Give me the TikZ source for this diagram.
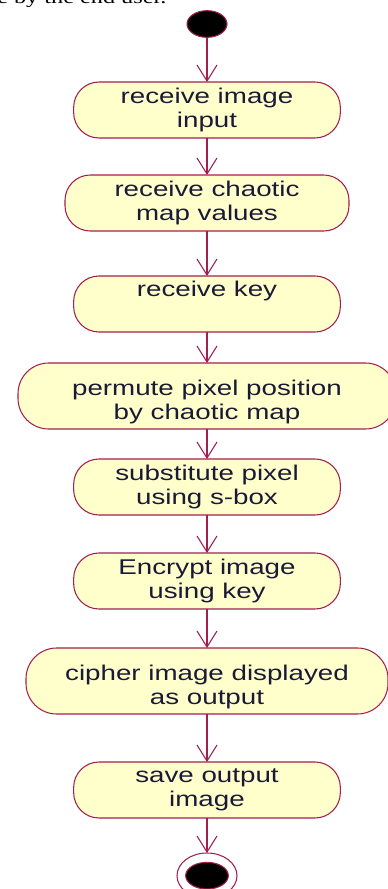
\documentclass[tikz,border=0pt]{standalone}
\usepackage{fontspec}
\newfontfamily\actfont[FakeStretch=1.3]{Liberation Sans}
\newfontfamily\paperfont[FakeStretch=1.3]{Liberation Serif}
\usetikzlibrary{arrows.meta,positioning,shapes.geometric}
\definecolor{UMaroon}{HTML}{A31F4F}
\definecolor{UFill}{HTML}{FFFFCC}
\definecolor{UText}{HTML}{1A1A36}

\begin{document}
\begin{tikzpicture}[x=0.75pt,y=-0.75pt,
  act/.style={draw=UMaroon,fill=UFill,rounded corners=19pt,line width=0.8pt,
    minimum width=200pt,minimum height=42pt,inner sep=0pt,outer sep=0pt,
    align=center,text=UText,font=\actfont\fontsize{16}{18}\selectfont},
  wide/.style={act,minimum height=49.5pt,rounded corners=23pt},
  dot/.style={ellipse,draw=UMaroon,fill=black,line width=0.8pt,
    minimum width=30pt,minimum height=20pt,inner sep=0pt,outer sep=0pt},
  a/.style={-{Straight Barb[length=12pt,width=15pt]},line width=0.8pt,color=UMaroon}
]
  \useasboundingbox (0,0) rectangle (388,889);
  \clip (0,0) rectangle (388,889);
  % last line of the text above the figure
  \node[anchor=base west,inner sep=0pt,font=\paperfont\fontsize{14}{16}\selectfont]
    (caption) at (-3,3) {e by the end user.};
  \node[dot] (start) at (207,24) {};
  \node[act,below=33.5pt of start] (recvimg) {receive image\\input};
  \node[act,minimum width=213pt,below=27.75pt of recvimg] (recvmap) {receive chaotic\\map values};
  \node[act,below=33.75pt of recvmap] (recvkey) {receive key\\\strut};
  \node[wide,minimum width=283.5pt,below=23.25pt of recvkey] (permute)
    {\rule{0pt}{20.7pt}permute pixel position\\by chaotic map};
  \node[act,below=22.5pt of permute] (subst) {substitute pixel\\using s-box};
  \node[act,below=28.5pt of subst] (encrypt) {Encrypt image\\using key};
  \node[wide,minimum width=271.5pt,below=29.25pt of encrypt] (cipher)
    {\rule{0pt}{20.7pt}cipher image displayed\\as output};
  \node[act,below=36pt of cipher] (save) {save output\\image};
  \node[ellipse,draw=UMaroon,fill=white,line width=0.8pt,minimum width=45pt,
    minimum height=34pt,inner sep=0pt,outer sep=0pt,below=26.25pt of save] (stop) {};
  \node[dot,minimum width=32pt] (stopdot) at (stop) {};
  \foreach \x/\y in {start/recvimg,recvimg/recvmap,recvmap/recvkey,recvkey/permute,
    permute/subst,subst/encrypt,encrypt/cipher,cipher/save,save/stop}
    {\draw[a] (\x) -- (\y);}
\end{tikzpicture}
\end{document}
